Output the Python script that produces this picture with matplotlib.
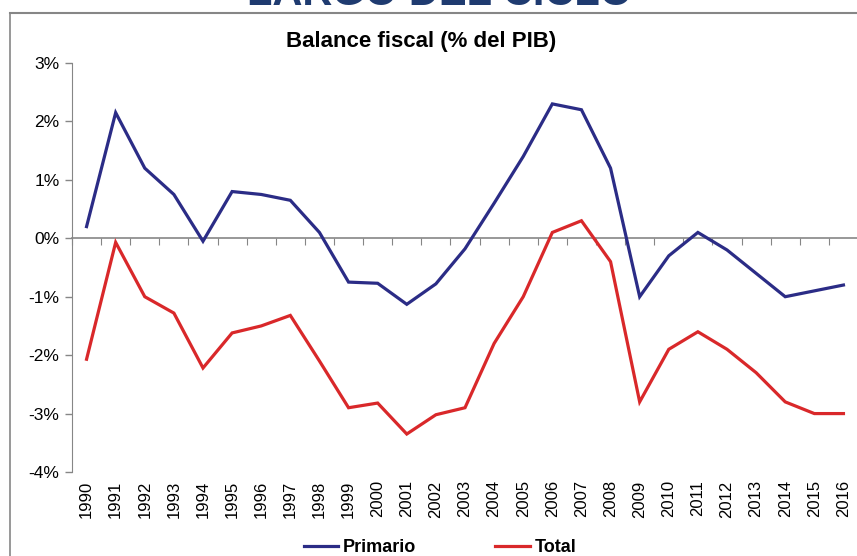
import matplotlib
matplotlib.use("Agg")
import matplotlib.pyplot as plt
from matplotlib.lines import Line2D
from matplotlib.ticker import FuncFormatter, NullFormatter
import numpy as np

years = [str(y) for y in range(1990, 2017)]
primario = [0.20, 2.15, 1.20, 0.75, -0.05, 0.80, 0.75, 0.65, 0.10, -0.75,
            -0.77, -1.13, -0.78, -0.18, 0.60, 1.40, 2.30, 2.20, 1.20, -1.00,
            -0.30, 0.10, -0.20, -0.60, -1.00, -0.90, -0.80]
total = [-2.07, -0.07, -1.00, -1.28, -2.22, -1.62, -1.50, -1.32, -2.10, -2.90,
         -2.82, -3.35, -3.02, -2.90, -1.80, -1.00, 0.10, 0.30, -0.40, -2.80,
         -1.90, -1.60, -1.90, -2.30, -2.80, -3.00, -3.00]
yticks = [3, 2, 1, 0, -1, -2, -3, -4]

plt.rcParams['font.family'] = ['Liberation Sans', 'DejaVu Sans']

W, H = 857, 556
fig = plt.figure(figsize=(W / 100, H / 100), dpi=100)
ax = fig.add_axes([72 / W, 1 - 472 / H, 786 / W, (472 - 63) / H])

x = np.arange(len(years))
navy = '#2b2c86'
red = '#d9282a'
gray = '#868686'

ax.set_xlim(-0.5, len(years) - 0.5)
ax.set_ylim(-4, 3)
ax.set_yticks(yticks)
ax.yaxis.set_major_formatter(FuncFormatter(lambda v, p: f"{int(round(v))}%"))
ax.tick_params(axis='y', direction='out', length=5, color=gray, width=1,
               labelsize=12.5, pad=4)

ax.set_xticks(x)
ax.set_xticklabels(years, rotation=90, fontsize=12)
ax.tick_params(axis='x', length=0, pad=6)

for s in ['top', 'right', 'bottom']:
    ax.spines[s].set_visible(False)
ax.spines['left'].set_color(gray)

sec = ax.secondary_xaxis(4 / 7)
for sp in sec.spines.values():
    sp.set_color(gray)
    sp.set_linewidth(1.2)
sec.xaxis.set_ticks_position('bottom')
sec.set_xticks(np.arange(-0.5, len(years) + 0.5, 1))
sec.xaxis.set_major_formatter(NullFormatter())
sec.tick_params(axis='x', direction='out', length=5, color=gray,
                labelbottom=False, labeltop=False)

ax.plot(x, primario, color=navy, lw=2.3, label='Primario', solid_joinstyle='miter', zorder=3)
ax.plot(x, total, color=red, lw=2.3, label='Total', solid_joinstyle='miter', zorder=3)

fig.text(421 / W, 1 - 42 / H, 'Balance fiscal (% del PIB)', ha='center', va='center',
         fontsize=16, fontweight='bold')

fig.text(440 / W, 1 - 5 / H, 'LARGO DEL CICLO', ha='center', va='baseline',
         fontsize=30, fontweight='bold', color='#1f3b70')

fig.add_artist(Line2D([10 / W, 1], [1 - 13 / H, 1 - 13 / H], color=gray, lw=1.5))
fig.add_artist(Line2D([10 / W, 10 / W], [1 - 13 / H, 0], color=gray, lw=1.2))

leg = fig.legend(loc='center', bbox_to_anchor=(440 / W, 1 - 548 / H), ncol=2,
                 frameon=False, handlelength=1.9, handletextpad=0.25,
                 columnspacing=4.4, prop={'weight': 'bold', 'size': 13})

fig.savefig('out.png', dpi=100)
